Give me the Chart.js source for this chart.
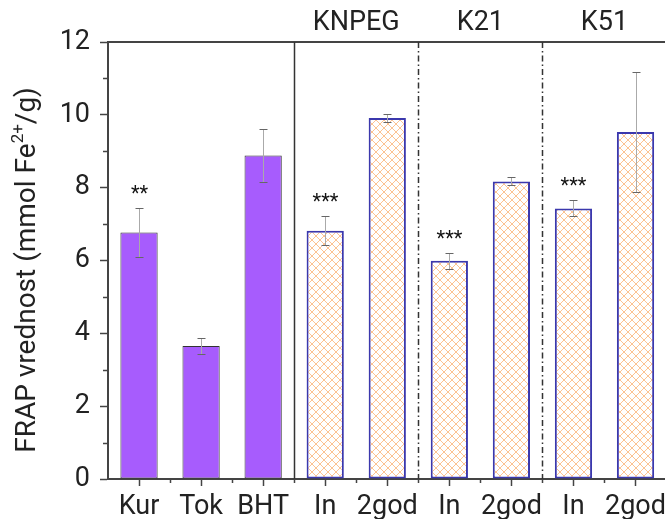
<!DOCTYPE html>
<html>
<head>
<meta charset="utf-8">
<script src="https://cdn.jsdelivr.net/npm/chart.js@4"></script>
<style>
  html, body { margin: 0; padding: 0; background: #fff; overflow: hidden; }
  canvas { display: block; }
</style>
</head>
<body>
<canvas id="frapChart" width="671" height="519"></canvas>
<script>
const samples = ["Kur", "Tok", "BHT", "In", "2god", "In", "2god", "In", "2god"];
const frapValues = [6.77, 3.65, 8.88, 6.82, 9.91, 5.99, 8.17, 7.43, 9.53];
const frapErrors = [0.67, 0.21, 0.72, 0.40, 0.11, 0.22, 0.11, 0.22, 1.65];
const significance = ["**", "", "", "***", "", "***", "", "***", ""];
const groupNames = ["KNPEG", "K21", "K51"];
const groupStarts = [3, 5, 7]; // first bar of each extract group
const yTicks = [0, 2, 4, 6, 8, 10, 12];

const FONT = "Roboto, 'Liberation Sans', sans-serif";
const TEXT = "#222";
const AXIS = "#444";
const LABEL_SIZE = 27;

// orange cross-hatch used for the extract bars
function makeHatch() {
    const size = 8;
    const c = document.createElement("canvas");
    c.width = size;
    c.height = size;
    const g = c.getContext("2d");
    g.fillStyle = "#fff";
    g.fillRect(0, 0, size, size);
    g.strokeStyle = "rgba(251, 170, 100, 0.7)";
    g.lineWidth = 1;
    g.beginPath();
    for (let k = -1; k <= 1; k++) {
        g.moveTo(k * size, 0);
        g.lineTo(k * size + size, size);
        g.moveTo(k * size, size);
        g.lineTo(k * size + size, 0);
    }
    g.stroke();
    return g.createPattern(c, "repeat");
}

const hatch = makeHatch();
const fills = samples.map((s, i) => i < groupStarts[0] ? "#a75cfd" : hatch);
const edges = samples.map((s, i) => i < groupStarts[0] ? "#333" : "#3b38ad");
const edgeWidths = samples.map((s, i) => i < groupStarts[0] ? 1 : 2);

const extras = {
    id: "extras",
    afterDatasetsDraw(chart) {
        const { ctx, chartArea: a, scales: { x, y } } = chart;
        const divX = k => x.getPixelForValue(k - 0.5);
        ctx.save();

        // error bars and significance marks
        frapValues.forEach((v, i) => {
            const cx = Math.round(x.getPixelForValue(i)) + 0.5;
            const top = Math.round(y.getPixelForValue(v + frapErrors[i])) + 0.5;
            const bot = Math.round(y.getPixelForValue(v - frapErrors[i])) + 0.5;
            ctx.lineWidth = 1;
            ctx.strokeStyle = "#aaa";
            ctx.beginPath();
            ctx.moveTo(cx, top);
            ctx.lineTo(cx, bot);
            ctx.stroke();
            ctx.strokeStyle = "#666";
            ctx.beginPath();
            ctx.moveTo(cx - 4, top);
            ctx.lineTo(cx + 4, top);
            ctx.moveTo(cx - 4, bot);
            ctx.lineTo(cx + 4, bot);
            ctx.stroke();
            if (significance[i]) {
                ctx.fillStyle = "#111";
                ctx.font = "20px " + FONT;
                ctx.textAlign = "center";
                ctx.textBaseline = "middle";
                ctx.fillText(significance[i], cx, top - 14);
            }
        });

        // top frame line
        ctx.strokeStyle = AXIS;
        ctx.lineWidth = 2;
        ctx.beginPath();
        ctx.moveTo(a.left, a.top);
        ctx.lineTo(a.right, a.top);
        ctx.stroke();

        // solid divider between standards and extracts, dash-dot between extracts
        ctx.strokeStyle = "#333";
        ctx.lineWidth = 1.5;
        groupStarts.forEach((start, g) => {
            const px = Math.round(divX(start)) + 0.5;
            ctx.setLineDash(g === 0 ? [] : [6, 3, 1.5, 3]);
            ctx.beginPath();
            ctx.moveTo(px, a.top);
            ctx.lineTo(px, a.bottom);
            ctx.stroke();
        });
        ctx.setLineDash([]);

        // group names above the frame
        ctx.fillStyle = TEXT;
        ctx.font = LABEL_SIZE + "px " + FONT;
        ctx.textAlign = "center";
        ctx.textBaseline = "middle";
        groupNames.forEach((name, g) => {
            const l = divX(groupStarts[g]);
            const r = g + 1 < groupStarts.length ? divX(groupStarts[g + 1]) : a.right;
            ctx.fillText(name, (l + r) / 2, 23);
        });

        // minor ticks
        ctx.strokeStyle = AXIS;
        ctx.lineWidth = 1.5;
        ctx.beginPath();
        for (let v = 1; v < 12; v += 2) {
            const py = Math.round(y.getPixelForValue(v)) + 0.5;
            ctx.moveTo(a.left - 5, py);
            ctx.lineTo(a.left, py);
        }
        for (let k = 1; k < samples.length; k++) {
            const px = Math.round(divX(k)) + 0.5;
            ctx.moveTo(px, a.bottom);
            ctx.lineTo(px, a.bottom + 4);
        }
        ctx.stroke();

        // y axis title with superscript
        const parts = [
            { t: "FRAP vrednost (mmol Fe", size: 28, dy: 0 },
            { t: "2+", size: 17, dy: -9 },
            { t: "/g)", size: 28, dy: 0 }
        ];
        const widths = parts.map(p => {
            ctx.font = p.size + "px " + FONT;
            return ctx.measureText(p.t).width;
        });
        const total = widths.reduce((s, w) => s + w, 0);
        ctx.translate(28, 270);
        ctx.rotate(-Math.PI / 2);
        ctx.textAlign = "left";
        ctx.textBaseline = "middle";
        let cur = -total / 2;
        parts.forEach((p, i) => {
            ctx.font = p.size + "px " + FONT;
            ctx.fillText(p.t, cur, p.dy);
            cur += widths[i];
        });
        ctx.restore();
    }
};

new Chart(document.getElementById("frapChart"), {
    type: "bar",
    data: {
        labels: samples,
        datasets: [{
            data: frapValues,
            backgroundColor: fills,
            borderColor: edges,
            borderWidth: edgeWidths,
            borderSkipped: false,
            barPercentage: 0.6,
            categoryPercentage: 1
        }]
    },
    options: {
        responsive: false,
        animation: false,
        layout: { padding: { top: 42, left: 0, right: 0, bottom: 0 } },
        plugins: {
            legend: { display: false },
            tooltip: { enabled: false }
        },
        scales: {
            x: {
                offset: true,
                grid: { offset: false, drawOnChartArea: false, tickLength: 7, tickColor: AXIS, tickWidth: 1.5 },
                border: { color: AXIS, width: 2 },
                ticks: { color: TEXT, font: { family: FONT, size: LABEL_SIZE }, padding: 5, maxRotation: 0, autoSkip: false },
                afterFit: s => { s.height = 40; }
            },
            y: {
                min: 0,
                max: 12,
                grid: { drawOnChartArea: false, tickLength: 8, tickColor: AXIS, tickWidth: 1.5 },
                border: { color: AXIS, width: 2 },
                ticks: { color: TEXT, font: { family: FONT, size: LABEL_SIZE }, padding: 10 },
                afterBuildTicks: s => { s.ticks = yTicks.map(v => ({ value: v })); },
                afterFit: s => { s.width = 108; }
            }
        }
    },
    plugins: [extras]
});
</script>
</body>
</html>
